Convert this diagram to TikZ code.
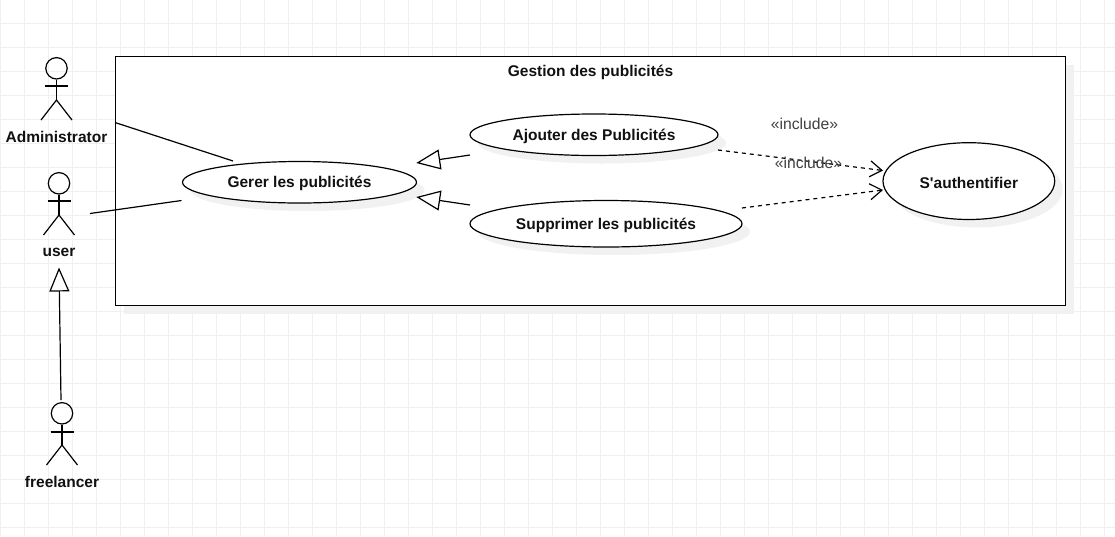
\documentclass[tikz,border=0pt]{standalone}
\usepackage{fontspec}
\setmainfont{Liberation Sans}[Ligatures=TeXOff]
\usetikzlibrary{arrows.meta}
\definecolor{gridc}{HTML}{F0F0F0}
\definecolor{shadowc}{HTML}{F1F1F1}
\definecolor{txt}{HTML}{111111}
\tikzset{
  x=1pt,y=-1pt,
  lbl/.style={font=\bfseries\fontsize{15.5}{17}\selectfont,text=txt,inner sep=0pt,anchor=center},
  assoc/.style={draw=black,line width=1.2pt},
  gen/.style={draw=black,line width=1.2pt,-{Triangle[open,fill=white,length=24pt,width=20pt]}},
  incl/.style={draw=black,line width=1.2pt,dash pattern=on 4pt off 4pt,-{Straight Barb[length=12pt,width=16pt,line width=1.2pt]}},
  inclabel/.style={font=\fontsize{15.7}{17}\selectfont,text=black!75,inner sep=0pt},
  stick/.style={draw=black,line width=1.2pt},
  head/.style={draw=black,line width=1.2pt,circle,minimum size=21.4pt,inner sep=0pt},
}
\newcommand{\UCase}[6]{% name, x1, y1, x2, y2, text
  \fill[shadowc] ({(#2+#4)/2+8},{(#3+#5)/2+8}) ellipse ({(#4-#2)/2} and {(#5-#3)/2});
  \path[draw=black,line width=1.2pt,fill=white] ({(#2+#4)/2},{(#3+#5)/2}) ellipse ({(#4-#2)/2} and {(#5-#3)/2});
  \node[lbl] (#1) at ({(#2+#4)/2},{(#3+#5)/2+1.5}) {#6};
}
\newcommand{\Actor}[7]{% name, headx, heady, hipy, armsy, text, labely
  \node[head] (#1h) at (#2,#3) {};
  \draw[stick] (#1h.south) -- (#2,#4);
  \draw[stick] (#2-11.5,#5) -- (#2+11.5,#5);
  \draw[stick] (#2-15.5,#4+20) -- (#2,#4) -- (#2+15.5,#4+20);
  \node[lbl] (#1) at (#2,#7) {#6};
}
\begin{document}
\begin{tikzpicture}
\useasboundingbox (0,0) rectangle (1115,536);
\fill[white] (0,0) rectangle (1115,536);
\foreach \i in {0,...,46} \draw[gridc,line width=1pt] (0.5+24*\i,0) -- (0.5+24*\i,536);
\foreach \j in {0,...,22} \draw[gridc,line width=1pt] (0,23.5+24*\j) -- (1115,23.5+24*\j);
\fill[shadowc] (123.5,64.5) rectangle (1073.5,313.5);
\draw[black,line width=1.2pt,fill=white] (115.5,56.5) rectangle (1065.5,305.5);
\node[lbl] (title) at (590.5,72) {Gestion des publicités};
\UCase{gerer}{182.5}{161.5}{416.5}{203}{Gerer les publicités}
\UCase{ajouter}{470}{114}{718}{155.5}{Ajouter des Publicités}
\UCase{supprimer}{470}{200.5}{742}{247}{Supprimer les publicités}
\UCase{auth}{883}{142.7}{1054.7}{219.5}{S'authentifier}
\Actor{admin}{56.5}{68.3}{100}{86}{Administrator}{137}
\Actor{user}{59}{183.3}{215}{201}{user}{252}
\Actor{free}{62}{413.3}{445}{432}{freelancer}{481.5}
\coordinate (a1) at (115,122.5); \coordinate (a2) at (233,161);
\coordinate (u1) at (90,213.5); \coordinate (u2) at (181.5,200.5);
\draw[assoc] (a1) -- (a2);
\draw[assoc] (u1) -- (u2);
\coordinate (g1s) at (470,155); \coordinate (g1e) at (416.3,163);
\coordinate (g2s) at (470,205); \coordinate (g2e) at (416.3,197);
\draw[gen] (g1s) -- (g1e);
\draw[gen] (g2s) -- (g2e);
\coordinate (f1) at (61,400); \coordinate (f2) at (59,267.5);
\draw[gen] (f1) -- (f2);
\coordinate (i1s) at (718,150); \coordinate (i1e) at (883,170.5);
\coordinate (i2s) at (742,208); \coordinate (i2e) at (883,190);
\draw[incl] (i1s) -- (i1e);
\draw[incl] (i2s) -- (i2e);
\node[inclabel] (l1) at (804.5,124) {«include»};
\node[inclabel] (l2) at (808.5,163) {«include»};
\end{tikzpicture}
\end{document}
